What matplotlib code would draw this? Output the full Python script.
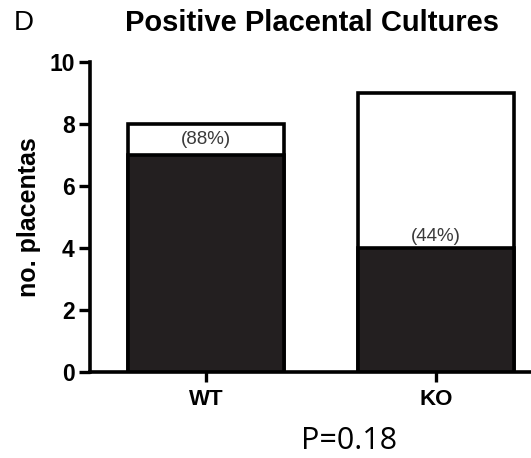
import matplotlib
matplotlib.use("Agg")
import matplotlib.pyplot as plt

categories = ["WT", "KO"]
positive = [7, 4]
total = [8, 9]
pct_labels = ["(88%)", "(44%)"]

plt.rcParams['font.family'] = ['Liberation Sans', 'DejaVu Sans']

fig = plt.figure(figsize=(5.31, 4.58), dpi=100)
ax = fig.add_axes([90/531, 86/458, 441/531, 310/458])

x = list(range(len(categories)))
w = 0.678
ax.bar(x, total, width=w, color="white", edgecolor="black", linewidth=2.6, zorder=2)
ax.bar(x, positive, width=w, color="#231f20", edgecolor="black", linewidth=2.6, zorder=3)
for xi, t, p, lab in zip(x, total, positive, pct_labels):
    y = (t + p) / 2 if t - p < 2 else p + 0.38
    ax.text(xi, y, lab, ha="center", va="center", fontsize=13.5, color="#3a3a3a", zorder=4)

ax.set_xlim(-0.504, 1.413)
ax.set_ylim(0, 10)
ax.set_yticks([0, 2, 4, 6, 8, 10])
ax.set_xticks(x)
ax.set_xticklabels(categories, fontsize=16, fontweight="bold")
ax.tick_params(axis="y", labelsize=16.5, width=2.4, length=8, direction="out", pad=3)
for lbl in ax.get_yticklabels():
    lbl.set_fontweight("bold")
ax.tick_params(axis="x", width=2.4, length=7, direction="out", pad=5)
ax.set_ylabel("no. placentas", fontsize=18, fontweight="bold", labelpad=6)
for s in ["top", "right"]:
    ax.spines[s].set_visible(False)
for s in ["left", "bottom"]:
    ax.spines[s].set_linewidth(2.6)

fig.text(312/531, 1 - 23/458, "Positive Placental Cultures", ha="center", va="center",
         fontsize=21, fontweight="bold")
fig.text(14/531, 1 - 23/458, "D", ha="left", va="center", fontsize=20)
fig.text(349/531, 2/458, "P=0.18", ha="center", va="bottom", fontsize=22,
         family=["Open Sans", "DejaVu Sans"])

fig.savefig("out.png", dpi=100)
